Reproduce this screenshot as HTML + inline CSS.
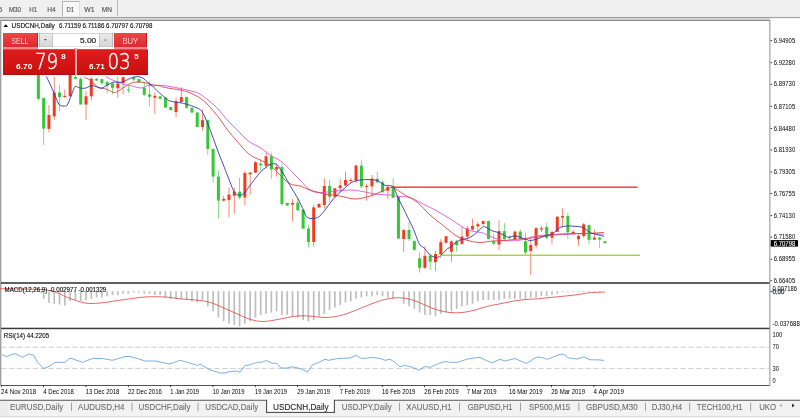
<!DOCTYPE html>
<html><head><meta charset="utf-8"><style>
html,body{margin:0;padding:0;width:800px;height:418px;overflow:hidden;background:#fff;}
body{position:relative;font-family:"Liberation Sans",Arial,sans-serif;}
.abs{position:absolute;}
svg text{font-family:"Liberation Sans",Arial,sans-serif;}
#wrap{position:absolute;left:0;top:0;width:800px;height:418px;overflow:hidden;background:#fff;filter:blur(0.25px);}
</style></head><body><div id="wrap">
<svg class="abs" style="left:0;top:0;will-change:transform" width="800" height="418" viewBox="0 0 800 418">
<rect x="0.00" y="0.00" width="800.00" height="17.00" fill="#f0f0f0"/>
<rect x="62.20" y="1.00" width="17.60" height="15.60" fill="#f8f8f8"/>
<rect x="62.20" y="1.00" width="17.60" height="0.80" fill="#a4a4a4"/>
<rect x="62.20" y="1.00" width="0.80" height="15.60" fill="#a4a4a4"/>
<rect x="79.00" y="1.80" width="0.80" height="14.80" fill="#dadada"/>
<rect x="117.10" y="0.00" width="0.80" height="16.60" fill="#a8a8a8"/>
<text x="-1.30" y="12.10" style="font-size:6.90px;fill:#505050;stroke:#505050;stroke-width:0.12px;" textLength="3.60" lengthAdjust="spacingAndGlyphs">5</text>
<text x="8.90" y="12.10" style="font-size:6.90px;fill:#505050;stroke:#505050;stroke-width:0.12px;" textLength="12.20" lengthAdjust="spacingAndGlyphs">M30</text>
<text x="29.30" y="12.10" style="font-size:6.90px;fill:#505050;stroke:#505050;stroke-width:0.12px;" textLength="8.00" lengthAdjust="spacingAndGlyphs">H1</text>
<text x="47.30" y="12.10" style="font-size:6.90px;fill:#505050;stroke:#505050;stroke-width:0.12px;" textLength="8.40" lengthAdjust="spacingAndGlyphs">H4</text>
<text x="66.40" y="12.10" style="font-size:6.90px;fill:#505050;stroke:#505050;stroke-width:0.12px;" textLength="7.60" lengthAdjust="spacingAndGlyphs">D1</text>
<text x="84.30" y="12.10" style="font-size:6.90px;fill:#505050;stroke:#505050;stroke-width:0.12px;" textLength="10.30" lengthAdjust="spacingAndGlyphs">W1</text>
<text x="101.80" y="12.10" style="font-size:6.90px;fill:#505050;stroke:#505050;stroke-width:0.12px;" textLength="10.30" lengthAdjust="spacingAndGlyphs">MN</text>
<rect x="0.00" y="16.00" width="800.00" height="0.80" fill="#f8f8f8"/>
<rect x="0.00" y="16.90" width="800.00" height="1.40" fill="#a0a0a0"/>
<rect x="0.00" y="18.30" width="770.00" height="1.60" fill="#d2d2d2"/>
<rect x="770.00" y="18.30" width="30.00" height="2.60" fill="#fcfcfc"/>
<rect x="0.00" y="19.90" width="770.00" height="1.00" fill="#808080"/>
<rect x="0.00" y="20.00" width="1.40" height="365.50" fill="#a0a0a0"/>
<g>
<rect x="37.96" y="74.00" width="0.80" height="26.60" fill="#36c636" opacity="0.75"/>
<rect x="36.86" y="74.00" width="3.00" height="24.80" fill="#36c636"/>
<rect x="43.26" y="97.80" width="0.80" height="47.20" fill="#36c636" opacity="0.75"/>
<rect x="42.16" y="97.80" width="3.00" height="30.80" fill="#36c636"/>
<rect x="48.55" y="105.00" width="0.80" height="27.50" fill="#f03c1e" opacity="0.75"/>
<rect x="47.45" y="115.00" width="3.00" height="13.80" fill="#f03c1e"/>
<rect x="53.85" y="77.00" width="0.80" height="43.00" fill="#f03c1e" opacity="0.75"/>
<rect x="52.75" y="92.50" width="3.00" height="23.80" fill="#f03c1e"/>
<rect x="59.14" y="85.00" width="0.80" height="26.00" fill="#36c636" opacity="0.75"/>
<rect x="58.04" y="92.50" width="3.00" height="4.50" fill="#36c636"/>
<rect x="64.44" y="89.50" width="0.80" height="8.30" fill="#f03c1e" opacity="0.75"/>
<rect x="63.34" y="95.80" width="3.00" height="1.20" fill="#f03c1e"/>
<rect x="68.63" y="74.00" width="3.00" height="22.30" fill="#f03c1e"/>
<rect x="75.03" y="75.00" width="0.80" height="4.00" fill="#36c636" opacity="0.75"/>
<rect x="73.93" y="77.00" width="3.00" height="1.80" fill="#36c636"/>
<rect x="80.32" y="77.00" width="0.80" height="27.50" fill="#36c636" opacity="0.75"/>
<rect x="79.22" y="78.80" width="3.00" height="25.70" fill="#36c636"/>
<rect x="85.62" y="91.30" width="0.80" height="28.70" fill="#f03c1e" opacity="0.75"/>
<rect x="84.52" y="96.30" width="3.00" height="8.20" fill="#f03c1e"/>
<rect x="90.91" y="77.00" width="0.80" height="23.50" fill="#f03c1e" opacity="0.75"/>
<rect x="89.81" y="78.80" width="3.00" height="17.50" fill="#f03c1e"/>
<rect x="96.21" y="78.00" width="0.80" height="3.00" fill="#36c636" opacity="0.75"/>
<rect x="95.11" y="78.80" width="3.00" height="1.70" fill="#36c636"/>
<rect x="101.50" y="79.00" width="0.80" height="6.00" fill="#36c636" opacity="0.75"/>
<rect x="100.41" y="79.10" width="3.00" height="3.90" fill="#36c636"/>
<rect x="106.80" y="80.50" width="0.80" height="13.00" fill="#36c636" opacity="0.75"/>
<rect x="105.70" y="82.00" width="3.00" height="3.00" fill="#36c636"/>
<rect x="112.09" y="82.40" width="0.80" height="12.00" fill="#36c636" opacity="0.75"/>
<rect x="110.99" y="83.50" width="3.00" height="4.30" fill="#36c636"/>
<rect x="117.39" y="76.70" width="0.80" height="21.10" fill="#f03c1e" opacity="0.75"/>
<rect x="116.29" y="83.50" width="3.00" height="4.70" fill="#f03c1e"/>
<rect x="122.68" y="76.50" width="0.80" height="17.90" fill="#f03c1e" opacity="0.75"/>
<rect x="121.58" y="77.20" width="3.00" height="5.80" fill="#f03c1e"/>
<rect x="127.98" y="86.00" width="0.80" height="7.00" fill="#36c636" opacity="0.75"/>
<rect x="126.88" y="89.50" width="3.00" height="1.00" fill="#36c636"/>
<rect x="133.28" y="76.50" width="0.80" height="4.50" fill="#36c636" opacity="0.75"/>
<rect x="132.18" y="77.20" width="3.00" height="2.40" fill="#36c636"/>
<rect x="138.57" y="78.50" width="0.80" height="4.50" fill="#36c636" opacity="0.75"/>
<rect x="137.47" y="79.10" width="3.00" height="3.30" fill="#36c636"/>
<rect x="143.87" y="82.00" width="0.80" height="14.00" fill="#36c636" opacity="0.75"/>
<rect x="142.77" y="87.70" width="3.00" height="7.20" fill="#36c636"/>
<rect x="149.16" y="81.50" width="0.80" height="24.90" fill="#36c636" opacity="0.75"/>
<rect x="148.06" y="94.40" width="3.00" height="2.40" fill="#36c636"/>
<rect x="154.46" y="92.50" width="0.80" height="21.30" fill="#f03c1e" opacity="0.75"/>
<rect x="153.36" y="95.80" width="3.00" height="2.00" fill="#f03c1e"/>
<rect x="159.75" y="96.00" width="0.80" height="3.50" fill="#36c636" opacity="0.75"/>
<rect x="158.65" y="96.30" width="3.00" height="2.50" fill="#36c636"/>
<rect x="165.05" y="97.00" width="0.80" height="11.00" fill="#36c636" opacity="0.75"/>
<rect x="163.95" y="97.50" width="3.00" height="10.00" fill="#36c636"/>
<rect x="170.34" y="106.50" width="0.80" height="4.00" fill="#36c636" opacity="0.75"/>
<rect x="169.24" y="107.00" width="3.00" height="3.00" fill="#36c636"/>
<rect x="175.63" y="97.50" width="0.80" height="19.50" fill="#f03c1e" opacity="0.75"/>
<rect x="174.53" y="101.30" width="3.00" height="10.70" fill="#f03c1e"/>
<rect x="180.93" y="87.30" width="0.80" height="15.70" fill="#f03c1e" opacity="0.75"/>
<rect x="179.83" y="97.20" width="3.00" height="4.80" fill="#f03c1e"/>
<rect x="186.22" y="96.50" width="0.80" height="12.00" fill="#36c636" opacity="0.75"/>
<rect x="185.12" y="97.20" width="3.00" height="10.60" fill="#36c636"/>
<rect x="191.52" y="107.50" width="0.80" height="5.50" fill="#36c636" opacity="0.75"/>
<rect x="190.42" y="107.80" width="3.00" height="4.70" fill="#36c636"/>
<rect x="196.81" y="112.00" width="0.80" height="15.50" fill="#36c636" opacity="0.75"/>
<rect x="195.72" y="112.50" width="3.00" height="14.50" fill="#36c636"/>
<rect x="202.11" y="109.70" width="0.80" height="21.00" fill="#f03c1e" opacity="0.75"/>
<rect x="201.01" y="120.20" width="3.00" height="6.80" fill="#f03c1e"/>
<rect x="207.41" y="119.50" width="0.80" height="35.10" fill="#36c636" opacity="0.75"/>
<rect x="206.31" y="120.20" width="3.00" height="28.80" fill="#36c636"/>
<rect x="212.70" y="148.50" width="0.80" height="34.10" fill="#36c636" opacity="0.75"/>
<rect x="211.60" y="149.00" width="3.00" height="27.60" fill="#36c636"/>
<rect x="218.00" y="170.70" width="0.80" height="47.80" fill="#36c636" opacity="0.75"/>
<rect x="216.90" y="176.60" width="3.00" height="24.00" fill="#36c636"/>
<rect x="223.29" y="196.00" width="0.80" height="5.50" fill="#f03c1e" opacity="0.75"/>
<rect x="222.19" y="198.90" width="3.00" height="1.70" fill="#f03c1e"/>
<rect x="228.59" y="187.40" width="0.80" height="29.90" fill="#f03c1e" opacity="0.75"/>
<rect x="227.49" y="194.60" width="3.00" height="5.30" fill="#f03c1e"/>
<rect x="233.88" y="187.40" width="0.80" height="26.30" fill="#f03c1e" opacity="0.75"/>
<rect x="232.78" y="191.70" width="3.00" height="4.10" fill="#f03c1e"/>
<rect x="239.18" y="177.80" width="0.80" height="21.60" fill="#36c636" opacity="0.75"/>
<rect x="238.08" y="191.70" width="3.00" height="5.80" fill="#36c636"/>
<rect x="244.47" y="170.70" width="0.80" height="34.70" fill="#f03c1e" opacity="0.75"/>
<rect x="243.37" y="173.00" width="3.00" height="24.50" fill="#f03c1e"/>
<rect x="249.77" y="171.90" width="0.80" height="22.70" fill="#f03c1e" opacity="0.75"/>
<rect x="248.67" y="172.60" width="3.00" height="1.70" fill="#f03c1e"/>
<rect x="255.06" y="161.00" width="0.80" height="12.00" fill="#f03c1e" opacity="0.75"/>
<rect x="253.96" y="162.30" width="3.00" height="10.30" fill="#f03c1e"/>
<rect x="260.36" y="158.70" width="0.80" height="12.00" fill="#36c636" opacity="0.75"/>
<rect x="259.25" y="163.50" width="3.00" height="1.90" fill="#36c636"/>
<rect x="265.65" y="152.70" width="0.80" height="15.60" fill="#f03c1e" opacity="0.75"/>
<rect x="264.55" y="156.30" width="3.00" height="9.60" fill="#f03c1e"/>
<rect x="270.95" y="152.70" width="0.80" height="26.30" fill="#36c636" opacity="0.75"/>
<rect x="269.85" y="156.30" width="3.00" height="13.20" fill="#36c636"/>
<rect x="276.24" y="163.50" width="0.80" height="13.10" fill="#f03c1e" opacity="0.75"/>
<rect x="275.14" y="167.00" width="3.00" height="2.50" fill="#f03c1e"/>
<rect x="281.54" y="164.00" width="0.80" height="42.00" fill="#36c636" opacity="0.75"/>
<rect x="280.44" y="167.00" width="3.00" height="37.00" fill="#36c636"/>
<rect x="286.83" y="202.50" width="0.80" height="3.50" fill="#36c636" opacity="0.75"/>
<rect x="285.73" y="203.00" width="3.00" height="2.50" fill="#36c636"/>
<rect x="292.13" y="199.00" width="0.80" height="22.30" fill="#f03c1e" opacity="0.75"/>
<rect x="291.03" y="203.00" width="3.00" height="1.50" fill="#f03c1e"/>
<rect x="297.42" y="198.00" width="0.80" height="13.00" fill="#36c636" opacity="0.75"/>
<rect x="296.32" y="202.60" width="3.00" height="7.70" fill="#36c636"/>
<rect x="302.72" y="209.50" width="0.80" height="19.50" fill="#36c636" opacity="0.75"/>
<rect x="301.62" y="209.80" width="3.00" height="18.70" fill="#36c636"/>
<rect x="308.01" y="224.60" width="0.80" height="23.00" fill="#36c636" opacity="0.75"/>
<rect x="306.91" y="228.50" width="3.00" height="13.50" fill="#36c636"/>
<rect x="313.31" y="204.50" width="0.80" height="42.40" fill="#f03c1e" opacity="0.75"/>
<rect x="312.20" y="207.40" width="3.00" height="34.60" fill="#f03c1e"/>
<rect x="318.60" y="203.50" width="0.80" height="4.50" fill="#f03c1e" opacity="0.75"/>
<rect x="317.50" y="203.80" width="3.00" height="3.60" fill="#f03c1e"/>
<rect x="323.90" y="178.20" width="0.80" height="30.40" fill="#f03c1e" opacity="0.75"/>
<rect x="322.80" y="185.90" width="3.00" height="19.10" fill="#f03c1e"/>
<rect x="329.19" y="180.00" width="0.80" height="22.00" fill="#36c636" opacity="0.75"/>
<rect x="328.09" y="185.90" width="3.00" height="10.80" fill="#36c636"/>
<rect x="334.49" y="188.00" width="0.80" height="9.00" fill="#f03c1e" opacity="0.75"/>
<rect x="333.38" y="188.30" width="3.00" height="8.40" fill="#f03c1e"/>
<rect x="339.78" y="178.70" width="0.80" height="13.20" fill="#f03c1e" opacity="0.75"/>
<rect x="338.68" y="185.40" width="3.00" height="2.90" fill="#f03c1e"/>
<rect x="345.08" y="171.50" width="0.80" height="14.40" fill="#f03c1e" opacity="0.75"/>
<rect x="343.98" y="180.00" width="3.00" height="5.40" fill="#f03c1e"/>
<rect x="350.37" y="178.00" width="0.80" height="5.00" fill="#f03c1e" opacity="0.75"/>
<rect x="349.27" y="180.00" width="3.00" height="1.00" fill="#f03c1e"/>
<rect x="355.67" y="164.40" width="0.80" height="18.60" fill="#f03c1e" opacity="0.75"/>
<rect x="354.56" y="165.60" width="3.00" height="15.00" fill="#f03c1e"/>
<rect x="360.96" y="159.60" width="0.80" height="28.70" fill="#36c636" opacity="0.75"/>
<rect x="359.86" y="165.60" width="3.00" height="20.80" fill="#36c636"/>
<rect x="366.26" y="183.50" width="0.80" height="17.20" fill="#f03c1e" opacity="0.75"/>
<rect x="365.16" y="186.00" width="3.00" height="1.00" fill="#f03c1e"/>
<rect x="371.55" y="175.00" width="0.80" height="21.70" fill="#f03c1e" opacity="0.75"/>
<rect x="370.45" y="178.70" width="3.00" height="7.70" fill="#f03c1e"/>
<rect x="376.85" y="171.50" width="0.80" height="12.00" fill="#36c636" opacity="0.75"/>
<rect x="375.75" y="178.70" width="3.00" height="3.60" fill="#36c636"/>
<rect x="382.14" y="180.00" width="0.80" height="13.00" fill="#36c636" opacity="0.75"/>
<rect x="381.04" y="182.30" width="3.00" height="9.60" fill="#36c636"/>
<rect x="387.44" y="184.70" width="0.80" height="14.30" fill="#f03c1e" opacity="0.75"/>
<rect x="386.33" y="187.00" width="3.00" height="3.70" fill="#f03c1e"/>
<rect x="392.73" y="178.20" width="0.80" height="19.80" fill="#36c636" opacity="0.75"/>
<rect x="391.63" y="185.90" width="3.00" height="11.90" fill="#36c636"/>
<rect x="398.03" y="196.50" width="0.80" height="42.50" fill="#36c636" opacity="0.75"/>
<rect x="396.93" y="196.70" width="3.00" height="41.80" fill="#36c636"/>
<rect x="403.32" y="229.00" width="0.80" height="23.00" fill="#f03c1e" opacity="0.75"/>
<rect x="402.22" y="230.00" width="3.00" height="9.00" fill="#f03c1e"/>
<rect x="408.62" y="221.80" width="0.80" height="19.20" fill="#36c636" opacity="0.75"/>
<rect x="407.51" y="230.00" width="3.00" height="9.00" fill="#36c636"/>
<rect x="413.91" y="240.50" width="0.80" height="10.00" fill="#36c636" opacity="0.75"/>
<rect x="412.81" y="241.00" width="3.00" height="8.80" fill="#36c636"/>
<rect x="419.21" y="252.20" width="0.80" height="20.30" fill="#36c636" opacity="0.75"/>
<rect x="418.11" y="258.20" width="3.00" height="9.60" fill="#36c636"/>
<rect x="424.50" y="246.20" width="0.80" height="22.80" fill="#f03c1e" opacity="0.75"/>
<rect x="423.40" y="255.80" width="3.00" height="12.00" fill="#f03c1e"/>
<rect x="429.80" y="253.40" width="0.80" height="16.60" fill="#36c636" opacity="0.75"/>
<rect x="428.69" y="255.80" width="3.00" height="6.00" fill="#36c636"/>
<rect x="435.09" y="251.00" width="0.80" height="20.30" fill="#f03c1e" opacity="0.75"/>
<rect x="433.99" y="254.00" width="3.00" height="8.20" fill="#f03c1e"/>
<rect x="440.39" y="239.00" width="0.80" height="19.00" fill="#f03c1e" opacity="0.75"/>
<rect x="439.29" y="242.20" width="3.00" height="12.40" fill="#f03c1e"/>
<rect x="445.68" y="236.00" width="0.80" height="7.00" fill="#f03c1e" opacity="0.75"/>
<rect x="444.58" y="236.30" width="3.00" height="6.50" fill="#f03c1e"/>
<rect x="450.98" y="240.20" width="0.80" height="21.60" fill="#f03c1e" opacity="0.75"/>
<rect x="449.88" y="241.40" width="3.00" height="10.30" fill="#f03c1e"/>
<rect x="456.27" y="240.00" width="0.80" height="11.50" fill="#36c636" opacity="0.75"/>
<rect x="455.17" y="241.50" width="3.00" height="3.50" fill="#36c636"/>
<rect x="461.57" y="227.00" width="0.80" height="18.00" fill="#f03c1e" opacity="0.75"/>
<rect x="460.47" y="236.60" width="3.00" height="7.20" fill="#f03c1e"/>
<rect x="466.86" y="226.00" width="0.80" height="15.00" fill="#f03c1e" opacity="0.75"/>
<rect x="465.76" y="228.30" width="3.00" height="8.30" fill="#f03c1e"/>
<rect x="472.16" y="218.70" width="0.80" height="12.00" fill="#f03c1e" opacity="0.75"/>
<rect x="471.06" y="225.90" width="3.00" height="3.60" fill="#f03c1e"/>
<rect x="477.45" y="222.00" width="0.80" height="9.00" fill="#f03c1e" opacity="0.75"/>
<rect x="476.35" y="224.20" width="3.00" height="2.20" fill="#f03c1e"/>
<rect x="482.75" y="220.50" width="0.80" height="5.00" fill="#f03c1e" opacity="0.75"/>
<rect x="481.64" y="221.10" width="3.00" height="2.90" fill="#f03c1e"/>
<rect x="488.04" y="220.50" width="0.80" height="19.00" fill="#36c636" opacity="0.75"/>
<rect x="486.94" y="221.00" width="3.00" height="18.00" fill="#36c636"/>
<rect x="493.34" y="233.50" width="0.80" height="12.00" fill="#36c636" opacity="0.75"/>
<rect x="492.24" y="241.20" width="3.00" height="2.40" fill="#36c636"/>
<rect x="498.63" y="220.10" width="0.80" height="30.20" fill="#f03c1e" opacity="0.75"/>
<rect x="497.53" y="231.10" width="3.00" height="13.40" fill="#f03c1e"/>
<rect x="503.93" y="223.00" width="0.80" height="17.00" fill="#36c636" opacity="0.75"/>
<rect x="502.82" y="231.10" width="3.00" height="8.20" fill="#36c636"/>
<rect x="509.22" y="235.50" width="0.80" height="4.00" fill="#36c636" opacity="0.75"/>
<rect x="508.12" y="236.90" width="3.00" height="1.00" fill="#36c636"/>
<rect x="514.51" y="230.70" width="0.80" height="9.30" fill="#f03c1e" opacity="0.75"/>
<rect x="513.41" y="231.60" width="3.00" height="7.70" fill="#f03c1e"/>
<rect x="519.81" y="229.50" width="0.80" height="10.50" fill="#36c636" opacity="0.75"/>
<rect x="518.71" y="231.60" width="3.00" height="7.70" fill="#36c636"/>
<rect x="525.11" y="232.60" width="0.80" height="22.00" fill="#36c636" opacity="0.75"/>
<rect x="524.00" y="241.20" width="3.00" height="11.30" fill="#36c636"/>
<rect x="530.40" y="237.80" width="0.80" height="37.20" fill="#f03c1e" opacity="0.75"/>
<rect x="529.30" y="245.00" width="3.00" height="6.00" fill="#f03c1e"/>
<rect x="535.69" y="227.00" width="0.80" height="21.60" fill="#f03c1e" opacity="0.75"/>
<rect x="534.59" y="228.30" width="3.00" height="17.20" fill="#f03c1e"/>
<rect x="540.99" y="226.00" width="0.80" height="6.00" fill="#f03c1e" opacity="0.75"/>
<rect x="539.89" y="228.30" width="3.00" height="1.20" fill="#f03c1e"/>
<rect x="546.28" y="223.00" width="0.80" height="16.00" fill="#36c636" opacity="0.75"/>
<rect x="545.18" y="227.00" width="3.00" height="10.80" fill="#36c636"/>
<rect x="551.58" y="230.70" width="0.80" height="13.70" fill="#f03c1e" opacity="0.75"/>
<rect x="550.48" y="232.00" width="3.00" height="5.70" fill="#f03c1e"/>
<rect x="556.88" y="216.00" width="0.80" height="16.00" fill="#f03c1e" opacity="0.75"/>
<rect x="555.77" y="216.80" width="3.00" height="15.00" fill="#f03c1e"/>
<rect x="562.17" y="208.40" width="0.80" height="19.20" fill="#f03c1e" opacity="0.75"/>
<rect x="561.07" y="216.00" width="3.00" height="1.60" fill="#f03c1e"/>
<rect x="567.46" y="212.60" width="0.80" height="26.70" fill="#36c636" opacity="0.75"/>
<rect x="566.36" y="216.00" width="3.00" height="16.20" fill="#36c636"/>
<rect x="572.76" y="230.00" width="0.80" height="5.00" fill="#f03c1e" opacity="0.75"/>
<rect x="571.66" y="231.80" width="3.00" height="1.70" fill="#f03c1e"/>
<rect x="578.05" y="234.30" width="0.80" height="11.70" fill="#f03c1e" opacity="0.75"/>
<rect x="576.95" y="236.00" width="3.00" height="3.30" fill="#f03c1e"/>
<rect x="583.35" y="223.00" width="0.80" height="15.00" fill="#f03c1e" opacity="0.75"/>
<rect x="582.25" y="224.30" width="3.00" height="11.70" fill="#f03c1e"/>
<rect x="588.64" y="224.30" width="0.80" height="20.10" fill="#36c636" opacity="0.75"/>
<rect x="587.54" y="225.10" width="3.00" height="14.70" fill="#36c636"/>
<rect x="593.94" y="229.70" width="0.80" height="10.30" fill="#f03c1e" opacity="0.75"/>
<rect x="592.84" y="237.60" width="3.00" height="2.00" fill="#f03c1e"/>
<rect x="599.24" y="236.80" width="0.80" height="10.90" fill="#36c636" opacity="0.75"/>
<rect x="598.13" y="237.60" width="3.00" height="2.00" fill="#36c636"/>
<rect x="604.53" y="241.00" width="0.80" height="2.40" fill="#36c636" opacity="0.75"/>
<rect x="603.43" y="241.30" width="3.00" height="1.90" fill="#36c636"/>
</g>
<path d="M105.70,76.70 C106.67,77.18 109.28,78.65 111.50,79.60 C113.72,80.55 116.92,81.60 119.00,82.40 C121.08,83.20 122.38,83.92 124.00,84.40 C125.62,84.88 127.12,84.98 128.70,85.30 C130.28,85.62 131.90,85.90 133.50,86.30 C135.10,86.70 136.72,87.47 138.30,87.70 C139.88,87.93 141.42,88.10 143.00,87.70 C144.58,87.30 146.20,85.62 147.80,85.30 C149.40,84.98 150.57,85.80 152.60,85.80 C154.63,85.80 157.10,85.18 160.00,85.30 C162.90,85.42 165.17,85.63 170.00,86.50 C174.83,87.37 184.22,89.35 189.00,90.50 C193.78,91.65 195.53,91.82 198.70,93.40 C201.87,94.98 204.82,97.45 208.00,100.00 C211.18,102.55 214.57,105.33 217.80,108.70 C221.03,112.07 224.20,116.68 227.40,120.20 C230.60,123.72 233.48,126.30 237.00,129.80 C240.52,133.30 244.67,138.25 248.50,141.20 C252.33,144.15 256.42,145.20 260.00,147.50 C263.58,149.80 266.25,152.50 270.00,155.00 C273.75,157.50 277.92,158.75 282.50,162.50 C287.08,166.25 292.92,172.92 297.50,177.50 C302.08,182.08 306.25,187.50 310.00,190.00 C313.75,192.50 315.83,192.33 320.00,192.50 C324.17,192.67 330.00,191.42 335.00,191.00 C340.00,190.58 345.83,190.00 350.00,190.00 C354.17,190.00 355.83,190.33 360.00,191.00 C364.17,191.67 370.00,193.33 375.00,194.00 C380.00,194.67 386.67,194.67 390.00,195.00 C393.33,195.33 391.67,195.58 395.00,196.00 C398.33,196.42 405.83,196.42 410.00,197.50 C414.17,198.58 415.83,200.42 420.00,202.50 C424.17,204.58 430.00,207.28 435.00,210.00 C440.00,212.72 445.42,215.97 450.00,218.80 C454.58,221.63 459.17,225.02 462.50,227.00 C465.83,228.98 466.83,229.77 470.00,230.70 C473.17,231.63 478.63,231.88 481.50,232.60 C484.37,233.32 485.28,234.20 487.20,235.00 C489.12,235.80 491.08,236.60 493.00,237.40 C494.92,238.20 496.95,239.25 498.70,239.80 C500.45,240.35 500.63,240.55 503.50,240.70 C506.37,240.85 512.87,240.85 515.90,240.70 C518.93,240.55 519.78,240.12 521.70,239.80 C523.62,239.48 525.18,239.43 527.40,238.80 C529.62,238.17 531.23,236.63 535.00,236.00 C538.77,235.37 545.00,235.25 550.00,235.00 C555.00,234.75 560.00,234.75 565.00,234.50 C570.00,234.25 575.72,233.65 580.00,233.50 C584.28,233.35 587.87,233.52 590.70,233.60 C593.53,233.68 594.77,233.88 597.00,234.00 C599.23,234.12 602.92,234.25 604.10,234.30" fill="none" stroke="#d058d8" stroke-width="0.9"/>
<path d="M84.20,77.20 C85.07,77.62 87.77,78.60 89.40,79.70 C91.03,80.80 92.57,82.55 94.00,83.80 C95.43,85.05 96.67,86.45 98.00,87.20 C99.33,87.95 100.67,88.00 102.00,88.30 C103.33,88.60 104.73,88.62 106.00,89.00 C107.27,89.38 108.20,90.02 109.60,90.60 C111.00,91.18 112.83,92.50 114.40,92.50 C115.97,92.50 117.40,91.48 119.00,90.60 C120.60,89.72 122.38,88.23 124.00,87.20 C125.62,86.17 127.12,85.20 128.70,84.40 C130.28,83.60 131.90,82.80 133.50,82.40 C135.10,82.00 136.72,82.00 138.30,82.00 C139.88,82.00 141.42,82.17 143.00,82.40 C144.58,82.63 146.20,83.00 147.80,83.40 C149.40,83.80 150.57,84.40 152.60,84.80 C154.63,85.20 157.93,85.35 160.00,85.80 C162.07,86.25 161.67,86.80 165.00,87.50 C168.33,88.20 176.00,89.18 180.00,90.00 C184.00,90.82 185.88,91.20 189.00,92.40 C192.12,93.60 195.53,95.12 198.70,97.20 C201.87,99.28 204.82,101.70 208.00,104.90 C211.18,108.10 214.57,112.25 217.80,116.40 C221.03,120.55 224.20,125.67 227.40,129.80 C230.60,133.93 233.48,137.22 237.00,141.20 C240.52,145.18 244.67,150.57 248.50,153.70 C252.33,156.83 256.42,158.12 260.00,160.00 C263.58,161.88 266.67,162.50 270.00,165.00 C273.33,167.50 276.67,171.87 280.00,175.00 C283.33,178.13 286.67,181.97 290.00,183.80 C293.33,185.63 296.67,184.97 300.00,186.00 C303.33,187.03 305.83,188.67 310.00,190.00 C314.17,191.33 320.00,193.00 325.00,194.00 C330.00,195.00 335.00,195.17 340.00,196.00 C345.00,196.83 350.00,199.00 355.00,199.00 C360.00,199.00 365.00,197.50 370.00,196.00 C375.00,194.50 381.25,191.42 385.00,190.00 C388.75,188.58 389.17,186.67 392.50,187.50 C395.83,188.33 400.83,192.50 405.00,195.00 C409.17,197.50 413.33,199.17 417.50,202.50 C421.67,205.83 425.83,211.25 430.00,215.00 C434.17,218.75 438.33,221.67 442.50,225.00 C446.67,228.33 451.67,232.70 455.00,235.00 C458.33,237.30 460.00,237.80 462.50,238.80 C465.00,239.80 467.08,240.38 470.00,241.00 C472.92,241.62 476.25,242.50 480.00,242.50 C483.75,242.50 488.33,241.33 492.50,241.00 C496.67,240.67 500.42,240.87 505.00,240.50 C509.58,240.13 515.00,239.30 520.00,238.80 C525.00,238.30 530.00,238.13 535.00,237.50 C540.00,236.87 545.00,235.62 550.00,235.00 C555.00,234.38 560.00,234.03 565.00,233.80 C570.00,233.57 575.72,233.68 580.00,233.60 C584.28,233.52 587.87,233.42 590.70,233.30 C593.53,233.18 594.77,233.05 597.00,232.90 C599.23,232.75 602.92,232.48 604.10,232.40" fill="none" stroke="#d84444" stroke-width="0.9"/>
<path d="M46.30,76.50 C46.92,77.75 48.72,81.25 50.00,84.00 C51.28,86.75 52.55,89.67 54.00,93.00 C55.45,96.33 57.45,101.87 58.70,104.00 C59.95,106.13 60.53,105.47 61.50,105.80 C62.47,106.13 63.53,106.13 64.50,106.00 C65.47,105.87 66.20,106.70 67.30,105.00 C68.40,103.30 69.82,98.83 71.10,95.80 C72.38,92.77 73.78,88.18 75.00,86.80 C76.22,85.42 77.15,87.23 78.40,87.50 C79.65,87.77 81.15,88.35 82.50,88.40 C83.85,88.45 85.35,88.13 86.50,87.80 C87.65,87.47 88.15,86.73 89.40,86.40 C90.65,86.07 92.57,85.62 94.00,85.80 C95.43,85.98 96.67,87.12 98.00,87.50 C99.33,87.88 100.67,88.38 102.00,88.10 C103.33,87.82 104.75,86.48 106.00,85.80 C107.25,85.12 108.27,84.63 109.50,84.00 C110.73,83.37 111.82,82.27 113.40,82.00 C114.98,81.73 117.23,82.48 119.00,82.40 C120.77,82.32 122.38,82.05 124.00,81.50 C125.62,80.95 127.12,79.82 128.70,79.10 C130.28,78.38 131.90,77.60 133.50,77.20 C135.10,76.80 136.72,76.55 138.30,76.70 C139.88,76.85 141.42,77.15 143.00,78.10 C144.58,79.05 146.20,81.03 147.80,82.40 C149.40,83.77 150.57,84.47 152.60,86.30 C154.63,88.13 157.93,91.53 160.00,93.40 C162.07,95.27 163.33,96.23 165.00,97.50 C166.67,98.77 167.25,100.08 170.00,101.00 C172.75,101.92 178.33,102.35 181.50,103.00 C184.67,103.65 186.13,103.95 189.00,104.90 C191.87,105.85 196.63,107.72 198.70,108.70 C200.77,109.68 200.47,109.62 201.40,110.80 C202.33,111.98 203.10,113.28 204.30,115.80 C205.50,118.32 207.17,122.32 208.60,125.90 C210.03,129.48 211.23,132.80 212.90,137.30 C214.57,141.80 216.70,147.90 218.60,152.90 C220.50,157.90 222.62,163.00 224.30,167.30 C225.98,171.60 227.25,175.00 228.70,178.70 C230.15,182.40 231.82,186.98 233.00,189.50 C234.18,192.02 234.62,192.85 235.80,193.80 C236.98,194.75 238.67,195.32 240.10,195.20 C241.53,195.08 242.97,194.42 244.40,193.10 C245.83,191.78 247.02,189.57 248.70,187.30 C250.38,185.03 252.58,182.00 254.50,179.50 C256.42,177.00 258.28,174.33 260.20,172.30 C262.12,170.27 264.25,168.63 266.00,167.30 C267.75,165.97 268.95,164.80 270.70,164.30 C272.45,163.80 274.82,163.33 276.50,164.30 C278.18,165.27 279.37,168.07 280.80,170.10 C282.23,172.13 283.67,174.12 285.10,176.50 C286.53,178.88 287.97,181.88 289.40,184.40 C290.83,186.92 292.27,189.20 293.70,191.60 C295.13,194.00 296.57,196.17 298.00,198.80 C299.43,201.43 300.72,204.28 302.30,207.40 C303.88,210.52 304.97,215.82 307.50,217.50 C310.03,219.18 314.58,218.75 317.50,217.50 C320.42,216.25 322.50,212.92 325.00,210.00 C327.50,207.08 329.58,203.33 332.50,200.00 C335.42,196.67 338.75,193.17 342.50,190.00 C346.25,186.83 349.58,182.67 355.00,181.00 C360.42,179.33 370.00,179.27 375.00,180.00 C380.00,180.73 382.53,184.50 385.00,185.40 C387.47,186.30 388.40,185.10 389.80,185.40 C391.20,185.70 392.40,186.10 393.40,187.20 C394.40,188.30 395.00,190.20 395.80,192.00 C396.60,193.80 397.22,195.82 398.20,198.00 C399.18,200.18 400.52,202.72 401.70,205.10 C402.88,207.48 404.08,209.82 405.30,212.30 C406.52,214.78 407.88,217.72 409.00,220.00 C410.12,222.28 411.00,223.83 412.00,226.00 C413.00,228.17 414.07,230.65 415.00,233.00 C415.93,235.35 416.75,238.08 417.60,240.10 C418.45,242.12 419.18,243.93 420.10,245.10 C421.02,246.27 422.10,246.25 423.10,247.10 C424.10,247.95 425.10,249.02 426.10,250.20 C427.10,251.38 428.10,253.20 429.10,254.20 C430.10,255.20 431.08,255.70 432.10,256.20 C433.12,256.70 434.18,257.03 435.20,257.20 C436.22,257.37 437.20,257.53 438.20,257.20 C439.20,256.87 440.07,256.20 441.20,255.20 C442.33,254.20 443.97,252.28 445.00,251.20 C446.03,250.12 446.28,249.48 447.40,248.70 C448.52,247.92 450.27,247.58 451.70,246.50 C453.13,245.42 454.33,243.38 456.00,242.20 C457.67,241.02 459.78,240.02 461.70,239.40 C463.62,238.78 465.53,239.20 467.50,238.50 C469.47,237.80 471.80,236.35 473.50,235.20 C475.20,234.05 476.22,232.92 477.70,231.60 C479.18,230.28 481.13,228.10 482.40,227.30 C483.67,226.50 484.18,226.48 485.30,226.80 C486.42,227.12 487.82,228.48 489.10,229.20 C490.38,229.92 491.72,230.62 493.00,231.10 C494.28,231.58 495.53,231.70 496.80,232.10 C498.07,232.50 499.33,232.95 500.60,233.50 C501.87,234.05 503.12,234.75 504.40,235.40 C505.68,236.05 507.02,237.23 508.30,237.40 C509.58,237.57 510.83,236.65 512.10,236.40 C513.37,236.15 514.62,235.82 515.90,235.90 C517.18,235.98 518.52,236.42 519.80,236.90 C521.08,237.38 522.33,238.32 523.60,238.80 C524.87,239.28 526.33,239.48 527.40,239.80 C528.47,240.12 528.32,240.87 530.00,240.70 C531.68,240.53 535.00,239.58 537.50,238.80 C540.00,238.02 542.50,236.83 545.00,236.00 C547.50,235.17 550.00,235.22 552.50,233.80 C555.00,232.38 557.50,228.80 560.00,227.50 C562.50,226.20 565.00,226.20 567.50,226.00 C570.00,225.80 572.67,226.13 575.00,226.30 C577.33,226.47 579.67,226.47 581.50,227.00 C583.33,227.53 584.47,228.52 586.00,229.50 C587.53,230.48 589.23,232.18 590.70,232.90 C592.17,233.62 593.35,233.42 594.80,233.80 C596.25,234.18 597.85,234.77 599.40,235.20 C600.95,235.63 603.32,236.20 604.10,236.40" fill="none" stroke="#3434a8" stroke-width="0.9"/>
<rect x="391.50" y="186.50" width="246.20" height="1.30" fill="#e02c2c"/><rect x="440.00" y="254.60" width="199.90" height="1.30" fill="#a0cc2c"/>
<text x="11.60" y="28.40" style="font-size:6.70px;fill:#000;stroke:#000;stroke-width:0.1px;" textLength="43.20" lengthAdjust="spacingAndGlyphs">USDCNH,Daily</text><text x="59.00" y="28.40" style="font-size:6.70px;fill:#000;stroke:#000;stroke-width:0.1px;" textLength="93.40" lengthAdjust="spacingAndGlyphs">6.71159 6.71186 6.70797 6.70798</text>
<path d="M3.5,27 L5.8,24.3 L8.1,27 Z" fill="#000"/>
<rect x="1.00" y="282.20" width="769.00" height="1.60" fill="#3a3a3a"/><rect x="1.00" y="327.70" width="769.00" height="1.50" fill="#3a3a3a"/><rect x="1.30" y="385.00" width="768.50" height="0.80" fill="#2a2a2a"/><rect x="769.30" y="20.00" width="1.10" height="366.00" fill="#9a9a9a"/>
<rect x="42.81" y="291.20" width="1.70" height="7.60" fill="#bebebe"/>
<rect x="48.10" y="291.20" width="1.70" height="11.80" fill="#bebebe"/>
<rect x="53.40" y="291.20" width="1.70" height="12.60" fill="#bebebe"/>
<rect x="58.69" y="291.20" width="1.70" height="13.30" fill="#bebebe"/>
<rect x="63.99" y="291.20" width="1.70" height="14.30" fill="#bebebe"/>
<rect x="69.28" y="291.20" width="1.70" height="9.80" fill="#bebebe"/>
<rect x="74.58" y="291.20" width="1.70" height="8.80" fill="#bebebe"/>
<rect x="79.88" y="291.20" width="1.70" height="9.80" fill="#bebebe"/>
<rect x="85.17" y="291.20" width="1.70" height="8.80" fill="#bebebe"/>
<rect x="90.47" y="291.20" width="1.70" height="7.80" fill="#bebebe"/>
<rect x="95.76" y="291.20" width="1.70" height="6.30" fill="#bebebe"/>
<rect x="101.06" y="291.20" width="1.70" height="6.30" fill="#bebebe"/>
<rect x="106.35" y="291.20" width="1.70" height="5.10" fill="#bebebe"/>
<rect x="111.64" y="291.20" width="1.70" height="3.80" fill="#bebebe"/>
<rect x="116.94" y="291.20" width="1.70" height="3.80" fill="#bebebe"/>
<rect x="122.23" y="291.20" width="1.70" height="2.60" fill="#bebebe"/>
<rect x="127.53" y="291.20" width="1.70" height="2.60" fill="#bebebe"/>
<rect x="132.83" y="291.20" width="1.70" height="1.30" fill="#bebebe"/>
<rect x="138.12" y="291.20" width="1.70" height="1.30" fill="#bebebe"/>
<rect x="143.42" y="291.20" width="1.70" height="2.60" fill="#bebebe"/>
<rect x="148.71" y="291.20" width="1.70" height="2.60" fill="#bebebe"/>
<rect x="154.01" y="291.20" width="1.70" height="3.80" fill="#bebebe"/>
<rect x="159.30" y="291.20" width="1.70" height="3.80" fill="#bebebe"/>
<rect x="164.60" y="291.20" width="1.70" height="6.30" fill="#bebebe"/>
<rect x="169.89" y="291.20" width="1.70" height="7.60" fill="#bebebe"/>
<rect x="175.19" y="291.20" width="1.70" height="7.60" fill="#bebebe"/>
<rect x="180.48" y="291.20" width="1.70" height="7.60" fill="#bebebe"/>
<rect x="185.78" y="291.20" width="1.70" height="8.80" fill="#bebebe"/>
<rect x="191.07" y="291.20" width="1.70" height="10.10" fill="#bebebe"/>
<rect x="196.37" y="291.20" width="1.70" height="11.30" fill="#bebebe"/>
<rect x="201.66" y="291.20" width="1.70" height="8.80" fill="#bebebe"/>
<rect x="206.96" y="291.20" width="1.70" height="15.10" fill="#bebebe"/>
<rect x="212.25" y="291.20" width="1.70" height="20.10" fill="#bebebe"/>
<rect x="217.55" y="291.20" width="1.70" height="26.30" fill="#bebebe"/>
<rect x="222.84" y="291.20" width="1.70" height="30.10" fill="#bebebe"/>
<rect x="228.14" y="291.20" width="1.70" height="32.60" fill="#bebebe"/>
<rect x="233.43" y="291.20" width="1.70" height="33.80" fill="#bebebe"/>
<rect x="238.73" y="291.20" width="1.70" height="35.10" fill="#bebebe"/>
<rect x="244.02" y="291.20" width="1.70" height="32.60" fill="#bebebe"/>
<rect x="249.32" y="291.20" width="1.70" height="30.10" fill="#bebebe"/>
<rect x="254.61" y="291.20" width="1.70" height="26.30" fill="#bebebe"/>
<rect x="259.90" y="291.20" width="1.70" height="23.80" fill="#bebebe"/>
<rect x="265.20" y="291.20" width="1.70" height="22.60" fill="#bebebe"/>
<rect x="270.50" y="291.20" width="1.70" height="21.30" fill="#bebebe"/>
<rect x="275.79" y="291.20" width="1.70" height="20.10" fill="#bebebe"/>
<rect x="281.08" y="291.20" width="1.70" height="23.80" fill="#bebebe"/>
<rect x="286.38" y="291.20" width="1.70" height="23.80" fill="#bebebe"/>
<rect x="291.68" y="291.20" width="1.70" height="25.10" fill="#bebebe"/>
<rect x="296.97" y="291.20" width="1.70" height="26.30" fill="#bebebe"/>
<rect x="302.26" y="291.20" width="1.70" height="28.80" fill="#bebebe"/>
<rect x="307.56" y="291.20" width="1.70" height="30.10" fill="#bebebe"/>
<rect x="312.85" y="291.20" width="1.70" height="28.80" fill="#bebebe"/>
<rect x="318.15" y="291.20" width="1.70" height="25.10" fill="#bebebe"/>
<rect x="323.44" y="291.20" width="1.70" height="22.60" fill="#bebebe"/>
<rect x="328.74" y="291.20" width="1.70" height="18.80" fill="#bebebe"/>
<rect x="334.03" y="291.20" width="1.70" height="16.30" fill="#bebebe"/>
<rect x="339.33" y="291.20" width="1.70" height="13.80" fill="#bebebe"/>
<rect x="344.62" y="291.20" width="1.70" height="11.30" fill="#bebebe"/>
<rect x="349.92" y="291.20" width="1.70" height="10.10" fill="#bebebe"/>
<rect x="355.21" y="291.20" width="1.70" height="7.60" fill="#bebebe"/>
<rect x="360.51" y="291.20" width="1.70" height="6.30" fill="#bebebe"/>
<rect x="365.81" y="291.20" width="1.70" height="5.10" fill="#bebebe"/>
<rect x="371.10" y="291.20" width="1.70" height="5.10" fill="#bebebe"/>
<rect x="376.39" y="291.20" width="1.70" height="3.80" fill="#bebebe"/>
<rect x="381.69" y="291.20" width="1.70" height="5.10" fill="#bebebe"/>
<rect x="386.98" y="291.20" width="1.70" height="6.30" fill="#bebebe"/>
<rect x="392.28" y="291.20" width="1.70" height="7.60" fill="#bebebe"/>
<rect x="402.87" y="291.20" width="1.70" height="12.60" fill="#bebebe"/>
<rect x="408.16" y="291.20" width="1.70" height="15.10" fill="#bebebe"/>
<rect x="413.46" y="291.20" width="1.70" height="17.60" fill="#bebebe"/>
<rect x="418.75" y="291.20" width="1.70" height="21.30" fill="#bebebe"/>
<rect x="424.05" y="291.20" width="1.70" height="23.80" fill="#bebebe"/>
<rect x="429.34" y="291.20" width="1.70" height="23.80" fill="#bebebe"/>
<rect x="434.64" y="291.20" width="1.70" height="25.10" fill="#bebebe"/>
<rect x="439.94" y="291.20" width="1.70" height="22.60" fill="#bebebe"/>
<rect x="445.23" y="291.20" width="1.70" height="21.30" fill="#bebebe"/>
<rect x="450.52" y="291.20" width="1.70" height="20.10" fill="#bebebe"/>
<rect x="455.82" y="291.20" width="1.70" height="17.60" fill="#bebebe"/>
<rect x="461.12" y="291.20" width="1.70" height="15.10" fill="#bebebe"/>
<rect x="466.41" y="291.20" width="1.70" height="13.80" fill="#bebebe"/>
<rect x="471.70" y="291.20" width="1.70" height="12.60" fill="#bebebe"/>
<rect x="477.00" y="291.20" width="1.70" height="10.10" fill="#bebebe"/>
<rect x="482.29" y="291.20" width="1.70" height="8.80" fill="#bebebe"/>
<rect x="487.59" y="291.20" width="1.70" height="8.80" fill="#bebebe"/>
<rect x="492.88" y="291.20" width="1.70" height="8.80" fill="#bebebe"/>
<rect x="498.18" y="291.20" width="1.70" height="8.80" fill="#bebebe"/>
<rect x="503.47" y="291.20" width="1.70" height="7.60" fill="#bebebe"/>
<rect x="508.77" y="291.20" width="1.70" height="7.60" fill="#bebebe"/>
<rect x="514.06" y="291.20" width="1.70" height="7.60" fill="#bebebe"/>
<rect x="519.36" y="291.20" width="1.70" height="7.60" fill="#bebebe"/>
<rect x="524.65" y="291.20" width="1.70" height="7.60" fill="#bebebe"/>
<rect x="529.95" y="291.20" width="1.70" height="6.30" fill="#bebebe"/>
<rect x="535.24" y="291.20" width="1.70" height="6.30" fill="#bebebe"/>
<rect x="540.54" y="291.20" width="1.70" height="5.10" fill="#bebebe"/>
<rect x="545.83" y="291.20" width="1.70" height="5.10" fill="#bebebe"/>
<rect x="551.13" y="291.20" width="1.70" height="3.80" fill="#bebebe"/>
<rect x="556.42" y="291.20" width="1.70" height="2.60" fill="#bebebe"/>
<rect x="561.72" y="291.20" width="1.70" height="0.80" fill="#bebebe"/>
<rect x="567.01" y="291.20" width="1.70" height="0.80" fill="#bebebe"/>
<rect x="572.31" y="291.20" width="1.70" height="0.80" fill="#bebebe"/>
<rect x="577.60" y="291.20" width="1.70" height="0.80" fill="#bebebe"/>
<rect x="582.90" y="291.20" width="1.70" height="0.80" fill="#bebebe"/>
<rect x="588.19" y="291.20" width="1.70" height="0.80" fill="#bebebe"/>
<rect x="593.49" y="291.20" width="1.70" height="0.80" fill="#bebebe"/>
<rect x="598.78" y="291.20" width="1.70" height="0.80" fill="#bebebe"/>
<path d="M0.00,288.80 C3.33,288.83 11.67,288.72 20.00,289.00 C28.33,289.28 42.08,289.08 50.00,290.50 C57.92,291.92 61.67,295.42 67.50,297.50 C73.33,299.58 79.58,302.08 85.00,303.00 C90.42,303.92 93.33,303.58 100.00,303.00 C106.67,302.42 117.50,300.50 125.00,299.50 C132.50,298.50 138.33,297.42 145.00,297.00 C151.67,296.58 159.17,296.70 165.00,297.00 C170.83,297.30 174.17,298.22 180.00,298.80 C185.83,299.38 194.58,299.77 200.00,300.50 C205.42,301.23 208.33,301.87 212.50,303.20 C216.67,304.53 220.83,306.70 225.00,308.50 C229.17,310.30 233.33,312.20 237.50,314.00 C241.67,315.80 245.83,318.05 250.00,319.30 C254.17,320.55 258.33,321.38 262.50,321.50 C266.67,321.62 270.83,320.67 275.00,320.00 C279.17,319.33 283.33,318.20 287.50,317.50 C291.67,316.80 295.83,316.00 300.00,315.80 C304.17,315.60 308.33,316.02 312.50,316.30 C316.67,316.58 320.83,317.50 325.00,317.50 C329.17,317.50 333.33,317.13 337.50,316.30 C341.67,315.47 345.83,313.97 350.00,312.50 C354.17,311.03 358.33,309.17 362.50,307.50 C366.67,305.83 370.83,303.95 375.00,302.50 C379.17,301.05 383.33,299.58 387.50,298.80 C391.67,298.02 395.83,297.60 400.00,297.80 C404.17,298.00 408.33,298.80 412.50,300.00 C416.67,301.20 420.83,303.33 425.00,305.00 C429.17,306.67 433.33,308.75 437.50,310.00 C441.67,311.25 445.83,312.08 450.00,312.50 C454.17,312.92 458.33,312.92 462.50,312.50 C466.67,312.08 470.83,311.03 475.00,310.00 C479.17,308.97 483.33,307.33 487.50,306.30 C491.67,305.27 495.83,304.63 500.00,303.80 C504.17,302.97 508.33,302.02 512.50,301.30 C516.67,300.58 520.83,299.92 525.00,299.50 C529.17,299.08 533.33,299.13 537.50,298.80 C541.67,298.47 545.83,297.92 550.00,297.50 C554.17,297.08 558.33,296.72 562.50,296.30 C566.67,295.88 570.83,295.55 575.00,295.00 C579.17,294.45 583.33,293.47 587.50,293.00 C591.67,292.53 597.08,292.35 600.00,292.20 C602.92,292.05 604.17,292.12 605.00,292.10" fill="none" stroke="#e04040" stroke-width="0.8"/>
<text x="4.50" y="291.90" style="font-size:6.60px;fill:#000;stroke:#000;stroke-width:0.1px;" textLength="101.80" lengthAdjust="spacingAndGlyphs">MACD(12,26,9) -0.002977 -0.001329</text>
<line x1="1" y1="347.2" x2="769" y2="347.2" stroke="#c6c6c6" stroke-width="0.9" stroke-dasharray="5.5,2.4"/>
<line x1="1" y1="368.4" x2="769" y2="368.4" stroke="#c6c6c6" stroke-width="0.9" stroke-dasharray="5.5,2.4"/>
<polyline points="2.0,354.8 6.3,356.5 15.0,353.5 22.5,357.3 28.8,354.0 33.8,355.5 37.5,362.3 43.8,368.5 50.0,366.0 55.0,362.3 65.0,362.3 70.0,358.0 82.5,362.3 92.5,358.5 102.5,358.5 112.5,360.3 125.0,356.5 130.0,356.5 137.5,358.5 145.0,361.0 155.0,361.0 170.0,364.0 180.0,360.3 190.0,363.0 197.5,365.5 200.0,364.0 210.0,369.8 220.0,373.0 225.0,373.0 230.0,371.5 237.5,371.0 240.0,372.3 245.0,365.5 250.0,364.8 257.5,362.3 261.0,362.3 266.3,360.5 272.5,363.5 276.3,363.0 281.3,368.0 287.5,368.0 292.5,366.8 300.0,368.5 307.5,371.8 312.5,364.8 318.8,362.3 325.0,359.3 328.8,360.3 337.5,358.5 350.0,358.0 356.3,355.3 361.3,358.5 367.5,358.0 372.5,357.3 380.0,358.5 385.0,360.3 390.0,359.3 395.0,362.3 400.0,366.8 405.0,365.3 412.5,367.3 418.8,370.3 425.0,366.5 430.0,367.3 437.5,364.0 445.0,361.5 450.0,362.3 457.5,362.3 467.5,359.0 480.0,357.3 486.3,360.5 492.5,362.8 500.0,359.3 505.0,361.0 515.0,358.5 526.3,363.5 536.3,357.3 541.3,357.3 547.5,359.3 560.0,354.3 563.8,354.3 568.8,358.0 577.5,359.0 583.8,356.8 590.0,359.8 597.5,359.8 604.2,360.4" fill="none" stroke="#5a9ae0" stroke-width="0.8"/>
<text x="3.80" y="338.40" style="font-size:6.60px;fill:#000;stroke:#000;stroke-width:0.1px;" textLength="45.30" lengthAdjust="spacingAndGlyphs">RSI(14) 44.2205</text>
<rect x="770.40" y="40.15" width="1.80" height="0.90" fill="#333"/>
<text x="773.80" y="42.85" style="font-size:6.30px;fill:#000;" textLength="21.40" lengthAdjust="spacingAndGlyphs">6.94905</text>
<rect x="770.40" y="62.27" width="1.80" height="0.90" fill="#333"/>
<text x="773.80" y="64.97" style="font-size:6.30px;fill:#000;" textLength="21.40" lengthAdjust="spacingAndGlyphs">6.92280</text>
<rect x="770.40" y="83.75" width="1.80" height="0.90" fill="#333"/>
<text x="773.80" y="86.45" style="font-size:6.30px;fill:#000;" textLength="21.40" lengthAdjust="spacingAndGlyphs">6.89730</text>
<rect x="770.40" y="105.86" width="1.80" height="0.90" fill="#333"/>
<text x="773.80" y="108.56" style="font-size:6.30px;fill:#000;" textLength="21.40" lengthAdjust="spacingAndGlyphs">6.87105</text>
<rect x="770.40" y="127.98" width="1.80" height="0.90" fill="#333"/>
<text x="773.80" y="130.68" style="font-size:6.30px;fill:#000;" textLength="21.40" lengthAdjust="spacingAndGlyphs">6.84480</text>
<rect x="770.40" y="149.46" width="1.80" height="0.90" fill="#333"/>
<text x="773.80" y="152.16" style="font-size:6.30px;fill:#000;" textLength="21.40" lengthAdjust="spacingAndGlyphs">6.81930</text>
<rect x="770.40" y="171.58" width="1.80" height="0.90" fill="#333"/>
<text x="773.80" y="174.28" style="font-size:6.30px;fill:#000;" textLength="21.40" lengthAdjust="spacingAndGlyphs">6.79305</text>
<rect x="770.40" y="193.06" width="1.80" height="0.90" fill="#333"/>
<text x="773.80" y="195.76" style="font-size:6.30px;fill:#000;" textLength="21.40" lengthAdjust="spacingAndGlyphs">6.76755</text>
<rect x="770.40" y="215.18" width="1.80" height="0.90" fill="#333"/>
<text x="773.80" y="217.88" style="font-size:6.30px;fill:#000;" textLength="21.40" lengthAdjust="spacingAndGlyphs">6.74130</text>
<rect x="770.40" y="236.66" width="1.80" height="0.90" fill="#333"/>
<text x="773.80" y="239.36" style="font-size:6.30px;fill:#000;" textLength="21.40" lengthAdjust="spacingAndGlyphs">6.71580</text>
<rect x="770.40" y="258.78" width="1.80" height="0.90" fill="#333"/>
<text x="773.80" y="261.48" style="font-size:6.30px;fill:#000;" textLength="21.40" lengthAdjust="spacingAndGlyphs">6.68955</text>
<rect x="770.40" y="280.26" width="1.80" height="0.90" fill="#333"/>
<text x="773.80" y="282.96" style="font-size:6.30px;fill:#000;" textLength="21.40" lengthAdjust="spacingAndGlyphs">6.66405</text>
<rect x="770.70" y="240.10" width="27.30" height="6.50" fill="#000"/>
<text x="773.70" y="245.85" style="font-size:6.30px;fill:#fff;stroke:#fff;stroke-width:0.1px;" textLength="21.60" lengthAdjust="spacingAndGlyphs">6.70798</text>
<rect x="0.90" y="385.00" width="0.80" height="2.20" fill="#222"/>
<text x="1.10" y="394.10" style="font-size:6.40px;fill:#000;" textLength="35.00" lengthAdjust="spacingAndGlyphs">24 Nov 2018</text>
<rect x="43.23" y="385.00" width="0.80" height="2.20" fill="#222"/>
<text x="43.33" y="394.10" style="font-size:6.40px;fill:#000;" textLength="30.60" lengthAdjust="spacingAndGlyphs">4 Dec 2018</text>
<rect x="85.56" y="385.00" width="0.80" height="2.20" fill="#222"/>
<text x="85.66" y="394.10" style="font-size:6.40px;fill:#000;" textLength="33.75" lengthAdjust="spacingAndGlyphs">13 Dec 2018</text>
<rect x="127.89" y="385.00" width="0.80" height="2.20" fill="#222"/>
<text x="127.99" y="394.10" style="font-size:6.40px;fill:#000;" textLength="33.80" lengthAdjust="spacingAndGlyphs">22 Dec 2016</text>
<rect x="170.22" y="385.00" width="0.80" height="2.20" fill="#222"/>
<text x="170.32" y="394.10" style="font-size:6.40px;fill:#000;" textLength="28.80" lengthAdjust="spacingAndGlyphs">1 Jan 2019</text>
<rect x="212.55" y="385.00" width="0.80" height="2.20" fill="#222"/>
<text x="212.65" y="394.10" style="font-size:6.40px;fill:#000;" textLength="31.90" lengthAdjust="spacingAndGlyphs">10 Jan 2019</text>
<rect x="254.88" y="385.00" width="0.80" height="2.20" fill="#222"/>
<text x="254.98" y="394.10" style="font-size:6.40px;fill:#000;" textLength="31.90" lengthAdjust="spacingAndGlyphs">19 Jan 2019</text>
<rect x="297.21" y="385.00" width="0.80" height="2.20" fill="#222"/>
<text x="297.31" y="394.10" style="font-size:6.40px;fill:#000;" textLength="32.75" lengthAdjust="spacingAndGlyphs">29 Jan 2019</text>
<rect x="339.54" y="385.00" width="0.80" height="2.20" fill="#222"/>
<text x="339.64" y="394.10" style="font-size:6.40px;fill:#000;" textLength="30.25" lengthAdjust="spacingAndGlyphs">7 Feb 2019</text>
<rect x="381.87" y="385.00" width="0.80" height="2.20" fill="#222"/>
<text x="381.97" y="394.10" style="font-size:6.40px;fill:#000;" textLength="33.40" lengthAdjust="spacingAndGlyphs">16 Feb 2019</text>
<rect x="424.20" y="385.00" width="0.80" height="2.20" fill="#222"/>
<text x="424.30" y="394.10" style="font-size:6.40px;fill:#000;" textLength="34.40" lengthAdjust="spacingAndGlyphs">26 Feb 2019</text>
<rect x="466.53" y="385.00" width="0.80" height="2.20" fill="#222"/>
<text x="466.63" y="394.10" style="font-size:6.40px;fill:#000;" textLength="30.00" lengthAdjust="spacingAndGlyphs">7 Mar 2019</text>
<rect x="508.86" y="385.00" width="0.80" height="2.20" fill="#222"/>
<text x="508.96" y="394.10" style="font-size:6.40px;fill:#000;" textLength="33.50" lengthAdjust="spacingAndGlyphs">16 Mar 2019</text>
<rect x="551.19" y="385.00" width="0.80" height="2.20" fill="#222"/>
<text x="551.29" y="394.10" style="font-size:6.40px;fill:#000;" textLength="33.75" lengthAdjust="spacingAndGlyphs">26 Mar 2019</text>
<rect x="593.52" y="385.00" width="0.80" height="2.20" fill="#222"/>
<text x="593.62" y="394.10" style="font-size:6.40px;fill:#000;" textLength="30.30" lengthAdjust="spacingAndGlyphs">4 Apr 2019</text>
<rect x="770.40" y="291.20" width="1.80" height="0.90" fill="#333"/>
<text x="772.50" y="290.70" style="font-size:6.30px;fill:#000;" textLength="24.40" lengthAdjust="spacingAndGlyphs">0.007186</text>
<text x="772.40" y="293.60" style="font-size:6.50px;fill:#2a3440;stroke:#2a3440;stroke-width:0.25px;" textLength="12.10" lengthAdjust="spacingAndGlyphs">0.00</text>
<text x="772.60" y="325.90" style="font-size:6.30px;fill:#000;" textLength="27.20" lengthAdjust="spacingAndGlyphs">-0.037688</text>
<text x="772.60" y="336.60" style="font-size:6.30px;fill:#000;" textLength="9.60" lengthAdjust="spacingAndGlyphs">100</text>
<text x="772.60" y="348.50" style="font-size:6.30px;fill:#000;" textLength="6.40" lengthAdjust="spacingAndGlyphs">70</text>
<text x="772.60" y="370.50" style="font-size:6.30px;fill:#000;" textLength="6.40" lengthAdjust="spacingAndGlyphs">30</text>
<text x="772.60" y="382.80" style="font-size:6.30px;fill:#000;" textLength="3.20" lengthAdjust="spacingAndGlyphs">0</text>
<rect x="0.00" y="399.40" width="800.00" height="18.60" fill="#f2f2f2"/>
<rect x="0.00" y="400.70" width="8.00" height="15.50" fill="#ececec"/>
<rect x="0.00" y="399.80" width="800.00" height="0.90" fill="#4a4a4a"/>
<rect x="0.00" y="416.00" width="800.00" height="0.80" fill="#c8c8c8"/>
<rect x="0.00" y="416.80" width="800.00" height="1.20" fill="#fafafa"/>
<rect x="266.20" y="399.30" width="68.60" height="13.40" fill="#fff"/>
<rect x="266.20" y="399.80" width="0.90" height="12.90" fill="#2a2a2a"/>
<rect x="333.90" y="399.80" width="0.90" height="12.90" fill="#2a2a2a"/>
<rect x="266.20" y="411.90" width="68.60" height="0.90" fill="#2a2a2a"/>
<text x="10.00" y="409.90" style="font-size:8.50px;fill:#6a6a6a;stroke:#6a6a6a;stroke-width:0.08px;" textLength="53.10" lengthAdjust="spacingAndGlyphs">EURUSD,Daily</text>
<text x="78.10" y="409.90" style="font-size:8.50px;fill:#6a6a6a;stroke:#6a6a6a;stroke-width:0.08px;" textLength="46.40" lengthAdjust="spacingAndGlyphs">AUDUSD,H4</text>
<text x="138.60" y="409.90" style="font-size:8.50px;fill:#6a6a6a;stroke:#6a6a6a;stroke-width:0.08px;" textLength="52.00" lengthAdjust="spacingAndGlyphs">USDCHF,Daily</text>
<text x="205.20" y="409.90" style="font-size:8.50px;fill:#6a6a6a;stroke:#6a6a6a;stroke-width:0.08px;" textLength="53.00" lengthAdjust="spacingAndGlyphs">USDCAD,Daily</text>
<text x="341.80" y="409.90" style="font-size:8.50px;fill:#6a6a6a;stroke:#6a6a6a;stroke-width:0.08px;" textLength="49.80" lengthAdjust="spacingAndGlyphs">USDJPY,Daily</text>
<text x="406.20" y="409.90" style="font-size:8.50px;fill:#6a6a6a;stroke:#6a6a6a;stroke-width:0.08px;" textLength="45.40" lengthAdjust="spacingAndGlyphs">XAUUSD,H1</text>
<text x="467.70" y="409.90" style="font-size:8.50px;fill:#6a6a6a;stroke:#6a6a6a;stroke-width:0.08px;" textLength="45.00" lengthAdjust="spacingAndGlyphs">GBPUSD,H1</text>
<text x="529.00" y="409.90" style="font-size:8.50px;fill:#6a6a6a;stroke:#6a6a6a;stroke-width:0.08px;" textLength="41.20" lengthAdjust="spacingAndGlyphs">SP500,M15</text>
<text x="586.00" y="409.90" style="font-size:8.50px;fill:#6a6a6a;stroke:#6a6a6a;stroke-width:0.08px;" textLength="51.70" lengthAdjust="spacingAndGlyphs">GBPUSD,M30</text>
<text x="651.80" y="409.90" style="font-size:8.50px;fill:#6a6a6a;stroke:#6a6a6a;stroke-width:0.08px;" textLength="30.40" lengthAdjust="spacingAndGlyphs">DJ30,H4</text>
<text x="696.80" y="409.90" style="font-size:8.50px;fill:#6a6a6a;stroke:#6a6a6a;stroke-width:0.08px;" textLength="45.80" lengthAdjust="spacingAndGlyphs">TECH100,H1</text>
<text x="759.20" y="409.90" style="font-size:8.50px;fill:#6a6a6a;stroke:#6a6a6a;stroke-width:0.08px;" textLength="17.00" lengthAdjust="spacingAndGlyphs">UKO</text>
<text x="273.00" y="409.90" style="font-size:8.50px;fill:#1e1e1e;stroke:#1e1e1e;stroke-width:0.1px;" textLength="55.70" lengthAdjust="spacingAndGlyphs">USDCNH,Daily</text>
<rect x="71.00" y="402.60" width="0.90" height="8.60" fill="#9a9a9a"/>
<rect x="131.60" y="402.60" width="0.90" height="8.60" fill="#9a9a9a"/>
<rect x="197.60" y="402.60" width="0.90" height="8.60" fill="#9a9a9a"/>
<rect x="399.00" y="402.60" width="0.90" height="8.60" fill="#9a9a9a"/>
<rect x="459.00" y="402.60" width="0.90" height="8.60" fill="#9a9a9a"/>
<rect x="520.10" y="402.60" width="0.90" height="8.60" fill="#9a9a9a"/>
<rect x="578.40" y="402.60" width="0.90" height="8.60" fill="#9a9a9a"/>
<rect x="645.10" y="402.60" width="0.90" height="8.60" fill="#9a9a9a"/>
<rect x="689.20" y="402.60" width="0.90" height="8.60" fill="#9a9a9a"/>
<rect x="750.20" y="402.60" width="0.90" height="8.60" fill="#9a9a9a"/>
<rect x="777.50" y="401.00" width="22.50" height="15.00" fill="#f2f2f2"/>
<path d="M779.8,405.4 L781.8,403.6 L781.8,407.2 Z" fill="#a8a8a8"/>
<path d="M792.2,403.4 L794.4,405.4 L792.2,407.4 Z" fill="#111"/>
</svg>
<!-- trade panel -->
<div class="abs" style="left:3.3px;top:33.1px;width:34.6px;height:14.4px;background:linear-gradient(#ee4646,#dc2a2e);box-shadow:inset -1px 0 0 #c41c24;"></div>
<div class="abs" style="left:114.3px;top:33.1px;width:33.2px;height:14.4px;background:linear-gradient(#ee4646,#dc2a2e);box-shadow:inset -1px 0 0 #c41c24;"></div>
<div class="abs" style="left:39.2px;top:33.2px;width:73.3px;height:14.2px;background:#fff;box-shadow:inset 0 0.6px 0 #b0b0b0, inset 0 -0.6px 0 #c8c8c8;"></div>
<div class="abs" style="left:39.2px;top:33.2px;width:14.3px;height:14.2px;background:linear-gradient(#ececec,#d6d6d6);box-shadow:inset 0.7px 0 0 #a8a8a8, inset -0.7px 0 0 #b8b8b8, inset 0 0.6px 0 #b0b0b0, inset 0 -0.6px 0 #bcbcbc;"></div>
<div class="abs" style="left:98.5px;top:33.2px;width:14px;height:14.2px;background:linear-gradient(#ececec,#d6d6d6);box-shadow:inset 0.7px 0 0 #b8b8b8, inset -0.7px 0 0 #a8a8a8, inset 0 0.6px 0 #b0b0b0, inset 0 -0.6px 0 #bcbcbc;"></div>
<div class="abs" style="left:74.4px;top:48.2px;width:3px;height:26.5px;background:#f4a8a8;"></div>
<div class="abs" style="left:3.3px;top:47.4px;width:34.6px;height:1.2px;background:#f08a8a;"></div>
<div class="abs" style="left:114.3px;top:47.4px;width:33.2px;height:1.2px;background:#f08a8a;"></div>
<div class="abs" style="left:3.3px;top:48.5px;width:71.3px;height:26.2px;background:linear-gradient(#e01c1c,#c80f0f);box-shadow:inset 0 0.8px 0 #ec5050, inset 0.8px 0 0 #b81414, inset 0 -0.8px 0 #a80c0c;"></div>
<div class="abs" style="left:77.2px;top:48.5px;width:70.4px;height:26.2px;background:linear-gradient(#e01c1c,#c80f0f);box-shadow:inset 0 0.8px 0 #ec5050, inset 0 -0.8px 0 #a80c0c;"></div>
<svg class="abs" style="left:0;top:0" width="800" height="418" viewBox="0 0 800 418">
<text x="11.6" y="43.7" style="font-size:8.8px" fill="#fcd4d4" textLength="16.6" lengthAdjust="spacingAndGlyphs">SELL</text>
<text x="122.4" y="43.6" style="font-size:8.8px" fill="#fcd4d4" textLength="15.8" lengthAdjust="spacingAndGlyphs">BUY</text>
<text x="79.9" y="43" style="font-size:8px" fill="#222" stroke="#222" stroke-width="0.2" textLength="16.4" lengthAdjust="spacingAndGlyphs">5.00</text>
<path d="M44.1,39.1 L46.7,39.1 L45.4,40.7 Z" fill="#444"/>
<path d="M104.1,40.6 L106.7,40.6 L105.4,39.0 Z" fill="#666"/>
<text x="16.1" y="69.4" style="font-size:7.5px;font-weight:bold" fill="#fff" textLength="16.4" lengthAdjust="spacingAndGlyphs">6.70</text>
<text x="34.9" y="69.1" style="font-family:'DejaVu Sans',sans-serif;font-weight:200;font-size:21.5px" fill="#fff" stroke="#fff" stroke-width="0.5" textLength="23.2" lengthAdjust="spacingAndGlyphs">79</text>
<text x="61.3" y="58.8" style="font-size:7.2px;font-weight:bold" fill="#fff" textLength="4.4" lengthAdjust="spacingAndGlyphs">8</text>
<text x="89.1" y="69.4" style="font-size:7.5px;font-weight:bold" fill="#fff" textLength="15.8" lengthAdjust="spacingAndGlyphs">6.71</text>
<text x="107.4" y="69.1" style="font-family:'DejaVu Sans',sans-serif;font-weight:200;font-size:21.5px" fill="#fff" stroke="#fff" stroke-width="0.5" textLength="23.2" lengthAdjust="spacingAndGlyphs">03</text>
<text x="134.3" y="58.8" style="font-size:7.2px;font-weight:bold" fill="#fff" textLength="4.4" lengthAdjust="spacingAndGlyphs">5</text>
</svg>
</div></body></html>
